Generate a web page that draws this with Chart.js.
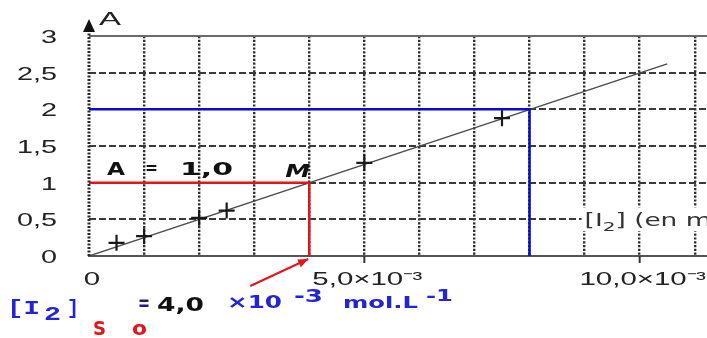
<!DOCTYPE html>
<html>
<head>
<meta charset="utf-8">
<script src="https://cdn.jsdelivr.net/npm/chart.js@4"></script>
<style>
  html, body { margin: 0; padding: 0; background: #fff; overflow: hidden; }
  #wrap { width: 707px; height: 338px; overflow: hidden; position: relative; }
  canvas { display: block; }
</style>
</head>
<body>
<div id="wrap"><canvas id="c" width="760" height="338"></canvas></div>
<script>
// Iodine concentration [I2] (x 10^-3 mol/L) and measured absorbance A
const concentrations = [0.5, 1.0, 2.0, 2.5, 5.0, 7.5];
const absorbances    = [0.18, 0.27, 0.52, 0.62, 1.27, 1.88];

// Calibration line through the origin (end points)
const fitConc = [0, 10.5];
const fitAbs  = [0, 2.62];

// Reading M on the calibration line (A = 1,0)
const pointM = { conc: 4.0, abs: 1.0 };
// Second reading at A = 2
const pointB = { conc: 8.0, abs: 2.0 };

// Axis ticks
const xTickLabels = { 0: '0', 5: '5,0×10⁻³', 10: '10,0×10⁻³' };
const yTickValues = [0, 0.5, 1, 1.5, 2, 2.5, 3];
const yTickLabels = ['0', '0,5', '1', '1,5', '2', '2,5', '3'];
const xRange = [0, 12];

const SANS = '"Liberation Sans", Arial, sans-serif';
const BOLD = '"DejaVu Sans", Verdana, sans-serif';
const MONO = '"Liberation Mono", "Courier New", monospace';
const BLUE_TXT = '#2424d4';
const RED = '#e3141c';

// text drawn with a horizontal stretch factor
function wideText(ctx, text, x, y, sx, align) {
  const w = ctx.measureText(text).width * sx;
  const left = align === 'right' ? x - w : align === 'center' ? x - w / 2 : x;
  ctx.save();
  ctx.translate(left, y);
  ctx.scale(sx, 1);
  ctx.fillText(text, 0, 0);
  ctx.restore();
  return left + w;
}

// text stretched to fill [x0, x1]
function spanText(ctx, text, x0, x1, y, font, color) {
  ctx.font = font;
  ctx.fillStyle = color;
  const sx = (x1 - x0) / ctx.measureText(text).width;
  wideText(ctx, text, x0, y, sx, 'left');
}

const decor = {
  id: 'decor',
  afterDraw(chart) {
    const { ctx, scales: { x, y } } = chart;
    const x0 = x.getPixelForValue(0);
    const yBottom = y.getPixelForValue(0);
    const yTop = y.getPixelForValue(yTickValues[yTickValues.length - 1]);
    ctx.save();
    ctx.textBaseline = 'alphabetic';

    // vertical A axis: thick dotted rule with arrow head
    ctx.strokeStyle = '#2a2a2a';
    ctx.lineWidth = 3;
    ctx.setLineDash([2, 1.5]);
    ctx.beginPath();
    ctx.moveTo(x0, yBottom);
    ctx.lineTo(x0, yTop - 4);
    ctx.stroke();
    ctx.setLineDash([]);
    ctx.fillStyle = '#111';
    ctx.beginPath();
    ctx.moveTo(x0, yTop - 17);
    ctx.lineTo(x0 - 6, yTop - 4);
    ctx.lineTo(x0 + 6, yTop - 4);
    ctx.closePath();
    ctx.fill();

    // tick labels
    ctx.fillStyle = '#222';
    ctx.font = '18px ' + SANS;
    yTickValues.forEach((v, i) => {
      wideText(ctx, yTickLabels[i], 57, y.getPixelForValue(v) + 7, 1.6, 'right');
    });
    ctx.font = '19px ' + SANS;
    Object.keys(xTickLabels).forEach(k => {
      wideText(ctx, xTickLabels[k], x.getPixelForValue(Number(k)) + 3, yBottom + 29, 1.55, 'center');
    });
    // small marks under the axis at the labelled ticks
    ctx.strokeStyle = '#333';
    ctx.lineWidth = 2;
    [5, 10].forEach(v => {
      const px = x.getPixelForValue(v);
      ctx.beginPath();
      ctx.moveTo(px, yBottom);
      ctx.lineTo(px, yBottom + 7);
      ctx.stroke();
    });

    // axis title A
    spanText(ctx, 'A', x0 + 10, x0 + 32, yTop - 11, '18px ' + SANS, '#222');

    // "A = 1,0" above the red guide
    const yM = y.getPixelForValue(pointM.abs);
    const xM = x.getPixelForValue(pointM.conc);
    const fB = 'bold 18px ' + BOLD;
    spanText(ctx, 'A', x0 + 18, x0 + 36, yM - 8, fB, '#111');
    spanText(ctx, '=', x0 + 56, x0 + 69, yM - 9, fB, '#111');
    spanText(ctx, '1,0', x0 + 91, x0 + 144, yM - 8, 'bold 17px ' + BOLD, '#111');

    // M label
    spanText(ctx, 'M', xM - 24, xM + 1, yM - 6, 'bold italic 18px ' + BOLD, '#111');

    // axis caption for [I2]
    const yCap = y.getPixelForValue(0.5);
    const xCap = x.getPixelForValue(9.0);
    ctx.fillStyle = '#fff';
    ctx.fillRect(xCap - 3, yCap - 12, 220, 24);
    ctx.fillStyle = '#333';
    ctx.font = '17px ' + BOLD;
    let cx = wideText(ctx, '[I', xCap, yCap + 7, 1.55, 'left');
    ctx.font = '13px ' + BOLD;
    cx = wideText(ctx, '2', cx, yCap + 12, 1.55, 'left');
    ctx.font = '17px ' + BOLD;
    wideText(ctx, '] (en mol.L⁻¹)', cx, yCap + 7, 1.55, 'left');

    // red arrow pointing at [I2] of M on the axis
    const tipX = xM - 1, tipY = yBottom + 3;
    const tailX = tipX - 58, tailY = tipY + 27;
    ctx.strokeStyle = RED;
    ctx.fillStyle = RED;
    ctx.lineWidth = 2;
    ctx.beginPath();
    ctx.moveTo(tailX, tailY);
    ctx.lineTo(tipX, tipY);
    ctx.stroke();
    const ang = Math.atan2(tipY - tailY, tipX - tailX);
    ctx.beginPath();
    ctx.moveTo(tipX, tipY);
    ctx.lineTo(tipX - 11 * Math.cos(ang - 0.4), tipY - 11 * Math.sin(ang - 0.4));
    ctx.lineTo(tipX - 11 * Math.cos(ang + 0.4), tipY - 11 * Math.sin(ang + 0.4));
    ctx.closePath();
    ctx.fill();

    // result line under the graph
    const fM = 'bold 21px ' + MONO;
    spanText(ctx, '[I', 7, 40, 314, fM, BLUE_TXT);
    spanText(ctx, '2', 44, 61, 320, fM, BLUE_TXT);
    spanText(ctx, ']', 67, 79, 314, fM, BLUE_TXT);
    spanText(ctx, 'S', 93, 106, 335, 'bold 19px ' + BOLD, RED);
    spanText(ctx, 'o', 132, 147, 335, 'bold 19px ' + BOLD, RED);
    spanText(ctx, '=', 138, 150, 310, 'bold 21px ' + BOLD, '#1a1a8a');
    spanText(ctx, '4,0', 157, 204, 311, 'bold 19px ' + BOLD, '#111');
    spanText(ctx, '×10', 227, 282, 308, 'bold 17px ' + BOLD, BLUE_TXT);
    spanText(ctx, '-3', 294, 323, 302, 'bold 17px ' + BOLD, BLUE_TXT);
    spanText(ctx, 'mol.L', 343, 418, 308, 'bold 16px ' + BOLD, BLUE_TXT);
    spanText(ctx, '-1', 426, 453, 301, 'bold 16px ' + BOLD, BLUE_TXT);

    ctx.restore();
  }
};

new Chart(document.getElementById('c'), {
  type: 'scatter',
  data: {
    datasets: [
      {
        label: 'mesures',
        data: concentrations.map((c, i) => ({ x: c, y: absorbances[i] })),
        pointStyle: 'cross',
        pointRadius: 8,
        pointBorderWidth: 2.2,
        borderColor: '#1a1a1a',
        backgroundColor: '#1a1a1a',
        showLine: false
      },
      {
        label: 'M',
        data: [{ x: 0, y: pointM.abs }, { x: pointM.conc, y: pointM.abs }, { x: pointM.conc, y: 0 }],
        showLine: true,
        borderColor: RED,
        borderWidth: 2.5,
        pointRadius: 0
      },
      {
        label: 'A = 2',
        data: [{ x: 0, y: pointB.abs }, { x: pointB.conc, y: pointB.abs }, { x: pointB.conc, y: 0 }],
        showLine: true,
        borderColor: '#0a0ad8',
        borderWidth: 2.5,
        pointRadius: 0
      },
      {
        label: 'droite',
        data: fitConc.map((c, i) => ({ x: c, y: fitAbs[i] })),
        showLine: true,
        borderColor: '#4a4a4a',
        borderWidth: 1.3,
        pointRadius: 0
      }
    ]
  },
  options: {
    responsive: false,
    animation: false,
    devicePixelRatio: 1,
    layout: { padding: { top: 36, left: 0, right: 0, bottom: 0 } },
    plugins: { legend: { display: false }, tooltip: { enabled: false } },
    scales: {
      x: {
        type: 'linear',
        min: xRange[0],
        max: xRange[1],
        afterFit: s => { s.height = 82; },
        ticks: { display: false, stepSize: 1, autoSkip: false, maxRotation: 0 },
        grid: {
          drawTicks: false,
          lineWidth: 2.4,
          color: c => (c.tick && c.tick.value === 0 ? 'rgba(0,0,0,0)' : '#2e2e2e')
        },
        border: { display: true, color: '#555', width: 2, dash: [2.2, 1.6] }
      },
      y: {
        min: yTickValues[0],
        max: yTickValues[yTickValues.length - 1],
        afterFit: s => { s.width = 89; },
        afterBuildTicks: s => { s.ticks = yTickValues.map(v => ({ value: v })); },
        ticks: { display: false },
        grid: {
          drawTicks: false,
          lineWidth: 2,
          color: c => {
            if (!c.tick) return '#3a3a3a';
            if (c.tick.value === 0) return 'rgba(0,0,0,0)';
            if (c.tick.value === 3) return '#6a6a6a';
            return '#3a3a3a';
          }
        },
        border: {
          display: false,
          dash: c => (c.tick && c.tick.value === 3 ? [] : [7, 3])
        }
      }
    }
  },
  plugins: [decor]
});
</script>
</body>
</html>
